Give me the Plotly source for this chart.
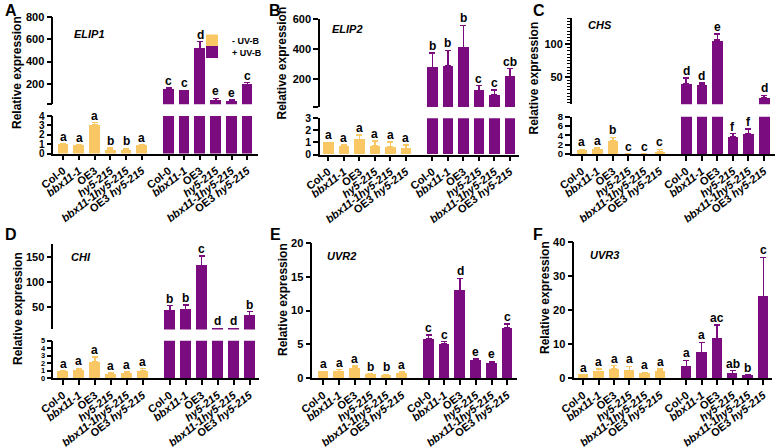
import plotly.graph_objects as go

W, H = 780, 448
FONT = "Arial, 'Liberation Sans', Helvetica, sans-serif"
YELLOW = "#F9C865"
PURPLE = "#7B0C7F"

# ---------------- data ----------------
categories = ["Col-0", "bbx11-1", "OE3", "hy5-215", "bbx11-1hy5-215", "OE3 hy5-215"]
tick_labels = ["Col-0", "<i>bbx11-1</i>", "OE3", "<i>hy5-215</i>",
               "<i>bbx11-1hy5-215</i>", "OE3 <i>hy5-215</i>"]
conditions = ["- UV-B", "+ UV-B"]
y_title = "Relative expression"

# ELIP1
elip1_minus = [1.0, 0.86, 3.04, 0.40, 0.36, 0.93]
elip1_minus_err = [0.0, 0.10, 0.26, 0.20, 0.18, 0.03]
elip1_plus = [152, 137, 520, 50, 38, 191]
elip1_plus_err = [10, 4, 60, 18, 15, 18]
elip1_minus_sig = ["a", "a", "a", "b", "b", "a"]
elip1_plus_sig = ["c", "c", "d", "e", "e", "c"]

# ELIP2
elip2_minus = [1.0, 0.71, 1.23, 0.71, 0.63, 0.49]
elip2_minus_err = [0.0, 0.08, 0.38, 0.41, 0.41, 0.30]
elip2_plus = [276, 285, 409, 119, 90, 213]
elip2_plus_err = [97, 106, 151, 34, 34, 54]
elip2_minus_sig = ["a", "a", "a", "a", "a", "a"]
elip2_plus_sig = ["b", "b", "b", "c", "c", "cb"]

# CHS
chs_minus = [1.02, 1.1, 2.76, 0.03, 0.03, 0.58]
chs_minus_err = [0.0, 0.28, 0.8, 0.0, 0.0, 0.42]
chs_plus = [39.2, 37.7, 106.2, 3.7, 4.36, 18.7]
chs_plus_err = [9.3, 3.0, 9.2, 0.66, 1.04, 3.0]
chs_minus_sig = ["a", "a", "b", "c", "c", "c"]
chs_plus_sig = ["d", "d", "e", "f", "f", "d"]

# CHI
chi_minus = [1.0, 1.07, 2.2, 0.58, 0.67, 1.03]
chi_minus_err = [0.0, 0.23, 0.6, 0.09, 0.13, 0.22]
chi_plus = [42.6, 44.6, 134, 6.5, 6.3, 32.5]
chi_plus_err = [10.4, 9.4, 19, 0.8, 0.8, 8.5]
chi_minus_sig = ["a", "a", "a", "a", "a", "a"]
chi_plus_sig = ["b", "b", "c", "d", "d", "b"]

# UVR2
uvr2_minus = [1.0, 1.0, 1.5, 0.55, 0.45, 0.8]
uvr2_minus_err = [0.0, 0.25, 0.3, 0.1, 0.1, 0.1]
uvr2_plus = [5.8, 5.05, 13.0, 2.67, 2.2, 7.4]
uvr2_plus_err = [0.6, 0.35, 1.75, 0.13, 0.25, 0.6]
uvr2_minus_sig = ["a", "a", "a", "b", "b", "a"]
uvr2_plus_sig = ["c", "c", "d", "e", "e", "c"]

# UVR3
uvr3_minus = [1.0, 2.0, 2.65, 2.26, 1.28, 2.06]
uvr3_minus_err = [0.0, 0.6, 0.95, 1.14, 0.39, 0.59]
uvr3_plus = [3.44, 7.56, 11.6, 1.37, 0.7, 24.1]
uvr3_plus_err = [1.76, 2.94, 4.0, 0.83, 0.3, 11.5]
uvr3_minus_sig = ["a", "a", "a", "a", "a", "a"]
uvr3_plus_sig = ["a", "a", "ac", "ab", "b", "c"]

# ---------------- layout geometry (pixels) ----------------
OFFSET = 6.7   # position of the first +UV-B bar
BARW = 0.68

panels = [
    dict(letter="A", gene="ELIP1", minus=elip1_minus, minus_err=elip1_minus_err,
         plus=elip1_plus, plus_err=elip1_plus_err, msig=elip1_minus_sig, psig=elip1_plus_sig,
         ax=53.3, first=63.3, last=247.3, end=258, letter_xy=(3, 0), gene_xy=(89, 33.7),
         title_xy=(17, 73), legend=True, lower_font=10,
         upper=dict(range=[15, 800], top=17.3, bottom=104.2,
                    tickvals=[15, 200, 400, 600, 800], ticktext=["", "200", "400", "600", "800"]),
         lower=dict(range=[0, 4], top=116, bottom=153.5,
                    tickvals=[0, 1, 2, 3, 4], ticktext=["0", "1", "2", "3", "4"])),
    dict(letter="B", gene="ELIP2", minus=elip2_minus, minus_err=elip2_minus_err,
         plus=elip2_plus, plus_err=elip2_plus_err, msig=elip2_minus_sig, psig=elip2_plus_sig,
         ax=320, first=328.3, last=510, end=519, letter_xy=(267, 0), gene_xy=(347, 29),
         title_xy=(282, 63.5), lower_font=10.5,
         upper=dict(range=[10, 600], top=19.3, bottom=106.9,
                    tickvals=[10, 200, 400, 600], ticktext=["", "200", "400", "600"]),
         lower=dict(range=[0, 3], top=118.3, bottom=154.5,
                    tickvals=[0, 1, 2, 3], ticktext=["0", "1", "2", "3"])),
    dict(letter="C", gene="CHS", minus=chs_minus, minus_err=chs_minus_err,
         plus=chs_plus, plus_err=chs_plus_err, msig=chs_minus_sig, psig=chs_plus_sig,
         ax=571.7, first=581.7, last=764, end=775, letter_xy=(531, 0), gene_xy=(600, 24.5),
         title_xy=(533, 78.5), minor=True, lower_font=9.5,
         upper=dict(range=[8, 141], top=17.5, bottom=104.2,
                    tickvals=[50, 100], ticktext=["50", "100"]),
         lower=dict(range=[0, 8], top=116.7, bottom=154,
                    tickvals=[0, 2, 4, 6, 8], ticktext=["0", "2", "4", "6", "8"])),
    dict(letter="D", gene="CHI", minus=chi_minus, minus_err=chi_minus_err,
         plus=chi_plus, plus_err=chi_plus_err, msig=chi_minus_sig, psig=chi_plus_sig,
         ax=53.3, first=63.0, last=249.5, end=259, letter_xy=(3, 224), gene_xy=(81, 257),
         title_xy=(18, 309), lower_font=7.5,
         upper=dict(range=[5, 176], top=244.4, bottom=329.4,
                    tickvals=[50, 100, 150], ticktext=["50", "100", "150"]),
         lower=dict(range=[0, 5], top=340.7, bottom=378,
                    tickvals=[0, 1, 2, 3, 4, 5], ticktext=["0", "1", "2", "3", "4", "5"])),
    dict(letter="E", gene="UVR2", minus=uvr2_minus, minus_err=uvr2_minus_err,
         plus=uvr2_plus, plus_err=uvr2_plus_err, msig=uvr2_minus_sig, psig=uvr2_plus_sig,
         ax=312.3, first=323.3, last=507.3, end=517, letter_xy=(268, 224), gene_xy=(341, 256),
         title_xy=(283, 300),
         single=dict(range=[0, 20], top=243, bottom=378,
                     tickvals=[0, 5, 10, 15, 20], ticktext=["0", "5", "10", "15", "20"])),
    dict(letter="F", gene="UVR3", minus=uvr3_minus, minus_err=uvr3_minus_err,
         plus=uvr3_plus, plus_err=uvr3_plus_err, msig=uvr3_minus_sig, psig=uvr3_plus_sig,
         ax=574.3, first=583.3, last=763.3, end=772, letter_xy=(531, 224), gene_xy=(604.5, 255),
         title_xy=(545, 298),
         single=dict(range=[0, 40], top=242.3, bottom=378,
                     tickvals=[0, 10, 20, 30, 40], ticktext=["0", "10", "20", "30", "40"])),
]


def fx(px):
    return px / W


def fy(py):
    return 1 - py / H


fig = go.Figure()
layout = dict(
    template="none",
    width=W, height=H, margin=dict(l=0, r=0, t=0, b=0, autoexpand=False),
    paper_bgcolor="white", plot_bgcolor="white",
    font=dict(family=FONT, color="black", size=11),
    barmode="overlay", bargap=0,
    showlegend=True,
)
annotations = []
axis_count = [0]

xs_minus = list(range(len(categories)))
xs_plus = [i + OFFSET for i in xs_minus]
tick_pos = xs_minus + xs_plus
tick_txt = tick_labels + tick_labels

XTICKFONT = dict(family=FONT, size=11, color="black", weight="bold")


def new_axes(p, ycfg, show_x, minor=False, yfont=11):
    axis_count[0] += 1
    n = axis_count[0]
    xname = "xaxis" if n == 1 else f"xaxis{n}"
    yname = "yaxis" if n == 1 else f"yaxis{n}"
    xref = "x" if n == 1 else f"x{n}"
    yref = "y" if n == 1 else f"y{n}"
    sp = (p["last"] - p["first"]) / (5 + OFFSET)
    xr = [-(p["first"] - p["ax"]) / sp, 5 + OFFSET + (p["end"] - p["last"]) / sp]
    xa = dict(domain=[fx(p["ax"]), fx(p["end"])], range=xr, anchor=yref,
              showgrid=False, zeroline=False, fixedrange=True, automargin=False)
    if show_x:
        xa.update(showline=True, linecolor="black", linewidth=1.5,
                  ticks="outside", ticklen=5, tickwidth=1.5, tickcolor="black",
                  tickmode="array", tickvals=tick_pos, ticktext=tick_txt,
                  tickangle=-38, tickfont=XTICKFONT)
    else:
        xa.update(visible=False)
    ya = dict(domain=[fy(ycfg["bottom"]), fy(ycfg["top"])], range=ycfg["range"],
              anchor=xref, showgrid=False, zeroline=False, showline=True,
              linecolor="black", linewidth=1.5, ticks="outside", ticklen=5,
              tickwidth=1.5, tickcolor="black", tickmode="array",
              tickvals=ycfg["tickvals"], ticktext=ycfg["ticktext"],
              tickfont=dict(family=FONT, size=yfont, color="black", weight="bold"),
              fixedrange=True, automargin=False)
    if minor:
        ya["minor"] = dict(tickmode="linear", tick0=0, dtick=5, ticks="outside",
                           ticklen=3, tickwidth=1, tickcolor="black", showgrid=False)
    layout[xname] = xa
    layout[yname] = ya
    return xref, yref


def bar(x, y, err, color, name, xref, yref, legend=None, show_err=True):
    eb = dict(type="data", symmetric=False, array=err, arrayminus=[0] * len(err),
              color=color, thickness=1.4, width=3, visible=show_err)
    return go.Bar(x=x, y=y, width=BARW, marker=dict(color=color, line=dict(width=0)),
                  error_y=eb, name=name, xaxis=xref, yaxis=yref,
                  showlegend=legend is not None, legend=legend or "legend",
                  hoverinfo="skip")


def sig_label(xv, top, s, xref, yref):
    annotations.append(dict(x=xv, y=top, xref=xref, yref=yref, text=s,
                            showarrow=False, yanchor="bottom", yshift=-2,
                            font=dict(family=FONT, size=12, color="black", weight="bold")))


for p in panels:
    leg = p.get("legend", False)
    if "single" in p:
        xr_, yr_ = new_axes(p, p["single"], True)
        fig.add_trace(bar(xs_minus, p["minus"], p["minus_err"], YELLOW, conditions[0], xr_, yr_))
        fig.add_trace(bar(xs_plus, p["plus"], p["plus_err"], PURPLE, conditions[1], xr_, yr_))
        for xv, v, e, s in zip(xs_minus, p["minus"], p["minus_err"], p["msig"]):
            sig_label(xv, v + e, s, xr_, yr_)
        for xv, v, e, s in zip(xs_plus, p["plus"], p["plus_err"], p["psig"]):
            sig_label(xv, v + e, s, xr_, yr_)
    else:
        low_top = p["lower"]["range"][1]
        any_low = any(v + e < low_top for v, e in zip(p["plus"], p["plus_err"]))
        xl, yl = new_axes(p, p["lower"], True, yfont=p.get("lower_font", 11))
        fig.add_trace(bar(xs_minus, p["minus"], p["minus_err"], YELLOW, conditions[0], xl, yl,
                          legend="legend" if leg else None))
        fig.add_trace(bar(xs_plus, p["plus"], p["plus_err"], PURPLE, conditions[1], xl, yl,
                          show_err=any_low))
        xu, yu = new_axes(p, p["upper"], False, minor=p.get("minor", False))
        fig.add_trace(bar(xs_plus, p["plus"], p["plus_err"], PURPLE, conditions[1], xu, yu,
                          legend="legend2" if leg else None))
        for xv, v, e, s in zip(xs_minus, p["minus"], p["minus_err"], p["msig"]):
            sig_label(xv, v + e, s, xl, yl)
        for xv, v, e, s in zip(xs_plus, p["plus"], p["plus_err"], p["psig"]):
            if v + e < low_top:
                sig_label(xv, v + e, s, xl, yl)
            else:
                sig_label(xv, v + e, s, xu, yu)

    lx, ly = p["letter_xy"]
    annotations.append(dict(x=fx(lx), y=fy(ly), xref="paper", yref="paper", text=p["letter"],
                            showarrow=False, xanchor="left", yanchor="top",
                            font=dict(family=FONT, size=16, color="black", weight="bold")))
    gx, gy = p["gene_xy"]
    annotations.append(dict(x=fx(gx), y=fy(gy), xref="paper", yref="paper",
                            text=f"<i>{p['gene']}</i>", showarrow=False,
                            xanchor="center", yanchor="middle",
                            font=dict(family=FONT, size=11, color="black", weight="bold")))
    tx, ty = p["title_xy"]
    annotations.append(dict(x=fx(tx), y=fy(ty), xref="paper", yref="paper", text=y_title,
                            showarrow=False, textangle=-90, xanchor="center", yanchor="middle",
                            font=dict(family=FONT, size=12, color="black", weight="bold")))

layout["annotations"] = annotations
LEGFONT = dict(family=FONT, size=9, color="black", weight="bold")
layout["legend"] = dict(x=fx(192), y=fy(40.5), xanchor="left", yanchor="middle",
                        bgcolor="rgba(0,0,0,0)", font=LEGFONT,
                        itemclick=False, itemdoubleclick=False)
layout["legend2"] = dict(x=fx(192), y=fy(52), xanchor="left", yanchor="middle",
                         bgcolor="rgba(0,0,0,0)", font=LEGFONT,
                         itemclick=False, itemdoubleclick=False)
fig.update_layout(**layout)
fig.write_html("out.html", config={"displayModeBar": False},
               post_script="document.body.style.margin='0px';")
